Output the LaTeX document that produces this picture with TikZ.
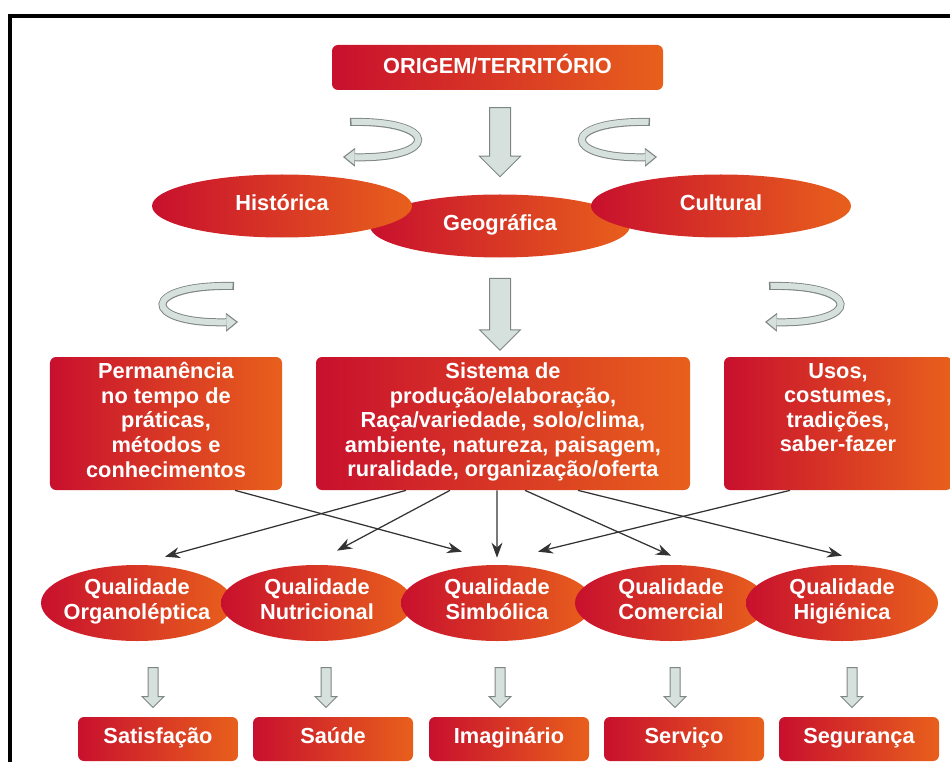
\documentclass[tikz,border=0pt]{standalone}
\usepackage{fontspec}
\setmainfont{Liberation Sans}
\usepackage{tikz}
\usetikzlibrary{arrows.meta, shapes.geometric, shapes.arrows, calc}
\definecolor{qualred}{HTML}{C8102E}
\definecolor{qualorange}{HTML}{E8601C}
\definecolor{arrowfill}{HTML}{D6E1DD}
\definecolor{arrowedge}{HTML}{7E8683}

\begin{document}
\begin{tikzpicture}[x=0.2mm, y=-0.2mm,
                box/.style={rectangle, rounded corners=1.2mm, left color=qualred, right color=qualorange, text=white, font=\bfseries\fontsize{12.4}{14}\selectfont, align=center, inner sep=0pt, execute at begin node=\strut, execute at end node=\strut},
                oval/.style={ellipse, left color=qualred, right color=qualorange, text=white, font=\bfseries\fontsize{12.4}{14}\selectfont, align=center, inner sep=-8pt, execute at begin node=\strut, execute at end node=\strut},
                fatarrow/.style={single arrow, rotate=-90, draw=arrowedge, fill=arrowfill, line width=0.2mm, inner xsep=0pt, inner ysep=2mm, single arrow head extend=2mm},
                smallarrow/.style={fatarrow, inner ysep=0.9mm, single arrow head extend=1.2mm, minimum height=8mm},
                link/.style={draw=black!80, line width=0.25mm, -{Stealth[length=3mm, width=2.2mm]}},
                ribbonedge/.style={draw=arrowedge, line width=1.6mm, -{Triangle[width=3.8mm, length=2.4mm, line width=0pt]}},
                ribbonfill/.style={draw=arrowfill, line width=1.2mm, shorten <=0.3mm, shorten >=0.4mm, -{Triangle[width=3mm, length=1.9mm, line width=0pt]}}
            ]
            \useasboundingbox (0,0) rectangle (950,762);
            \draw[line width=0.8mm] (10,762) -- (10,16) -- (952,16);

            % Origem
            \node[box, minimum width=66.2mm, minimum height=9mm] (orig) at (497.5,67.5) {ORIGEM/TERRITÓRIO};
            \node[fatarrow, minimum height=13.8mm] (down1) at (500,137) {};

            % Ribbons
            \draw[ribbonedge] (350,122) .. controls (440,120) and (440,159) .. (343,157);
            \draw[ribbonfill] (350,122) .. controls (440,120) and (440,159) .. (343,157);
            \draw[ribbonedge] (650,122) .. controls (560,120) and (560,159) .. (657,157);
            \draw[ribbonfill] (650,122) .. controls (560,120) and (560,159) .. (657,157);

            % Ellipsen
            \node[oval, minimum width=52mm, minimum height=12.6mm] (geo) at (500,226) {Geográfica};
            \node[oval, minimum width=52mm, minimum height=12.6mm] (hist) at (282,206) {Histórica};
            \node[oval, minimum width=52mm, minimum height=12.6mm] (cult) at (721,206) {Cultural};

            \node[fatarrow, minimum height=14.4mm] (down2) at (500,309) {};
            \draw[ribbonedge] (234,286) .. controls (140,284) and (140,324) .. (238,322);
            \draw[ribbonfill] (234,286) .. controls (140,284) and (140,324) .. (238,322);
            \draw[ribbonedge] (769,286) .. controls (863,284) and (863,324) .. (765,322);
            \draw[ribbonfill] (769,286) .. controls (863,284) and (863,324) .. (765,322);

            % Caixas
            \node[box, minimum width=46.4mm, minimum height=26.6mm] (perm) at (166,423.5) {Permanência\\no tempo de\\práticas,\\métodos e\\conhecimentos};
            \node[box, minimum width=74.8mm, minimum height=26.6mm] (sist) at (503,423.5) {Sistema de\\produção/elaboração,\\Raça/variedade, solo/clima,\\ambiente, natureza, paisagem,\\ruralidade, organização/oferta};
            \node[box, minimum width=45.6mm, minimum height=26.6mm] (usos) at (838,423.5) {Usos,\\costumes,\\tradições,\\saber-fazer\\\mbox{}};

            % Qualidades
            \node[oval, minimum width=38.4mm, minimum height=15.2mm] (qorg) at (137,603) {Qualidade\\Organoléptica};
            \node[oval, minimum width=38.4mm, minimum height=15.2mm] (qnut) at (317,603) {Qualidade\\Nutricional};
            \node[oval, minimum width=38.4mm, minimum height=15.2mm] (qsimb) at (497,603) {Qualidade\\Simbólica};
            \node[oval, minimum width=38.4mm, minimum height=15.2mm] (qcom) at (671,603) {Qualidade\\Comercial};
            \node[oval, minimum width=38.4mm, minimum height=15.2mm] (qhig) at (842,603) {Qualidade\\Higiénica};

            % Setas
            \draw[link] ([xshift=13.8mm]perm.south) -- ([xshift=-7mm, yshift=2.6mm]qsimb.north);
            \draw[link] ([xshift=-19.4mm]sist.south) -- ([xshift=5.6mm, yshift=1.6mm]qorg.north);
            \draw[link] ([xshift=-10.6mm]sist.south) -- ([xshift=4mm, yshift=2.8mm]qnut.north);
            \draw[link] ([xshift=-1.2mm]sist.south) -- ([yshift=1.4mm]qsimb.north);
            \draw[link] ([xshift=4.4mm]sist.south) -- ([yshift=1.8mm]qcom.north);
            \draw[link] ([xshift=15mm]sist.south) -- ([yshift=1.8mm]qhig.north);
            \draw[link] ([xshift=-9.6mm]usos.south) -- ([xshift=8.2mm, yshift=2.6mm]qsimb.north);

            % Resultados
            \node[smallarrow] (a1) at (153,685) {};
            \node[smallarrow] (a2) at (326,685) {};
            \node[smallarrow] (a3) at (500,685) {};
            \node[smallarrow] (a4) at (675,685) {};
            \node[smallarrow] (a5) at (852,685) {};

            \node[box, minimum width=32mm, minimum height=8.8mm] (satis) at (158,739) {Satisfação};
            \node[box, minimum width=32mm, minimum height=8.8mm] (saude) at (333,739) {Saúde};
            \node[box, minimum width=32mm, minimum height=8.8mm] (imag) at (509,739) {Imaginário};
            \node[box, minimum width=32mm, minimum height=8.8mm] (serv) at (684,739) {Serviço};
            \node[box, minimum width=32mm, minimum height=8.8mm] (seg) at (859,739) {Segurança};

        \end{tikzpicture}
\end{document}
